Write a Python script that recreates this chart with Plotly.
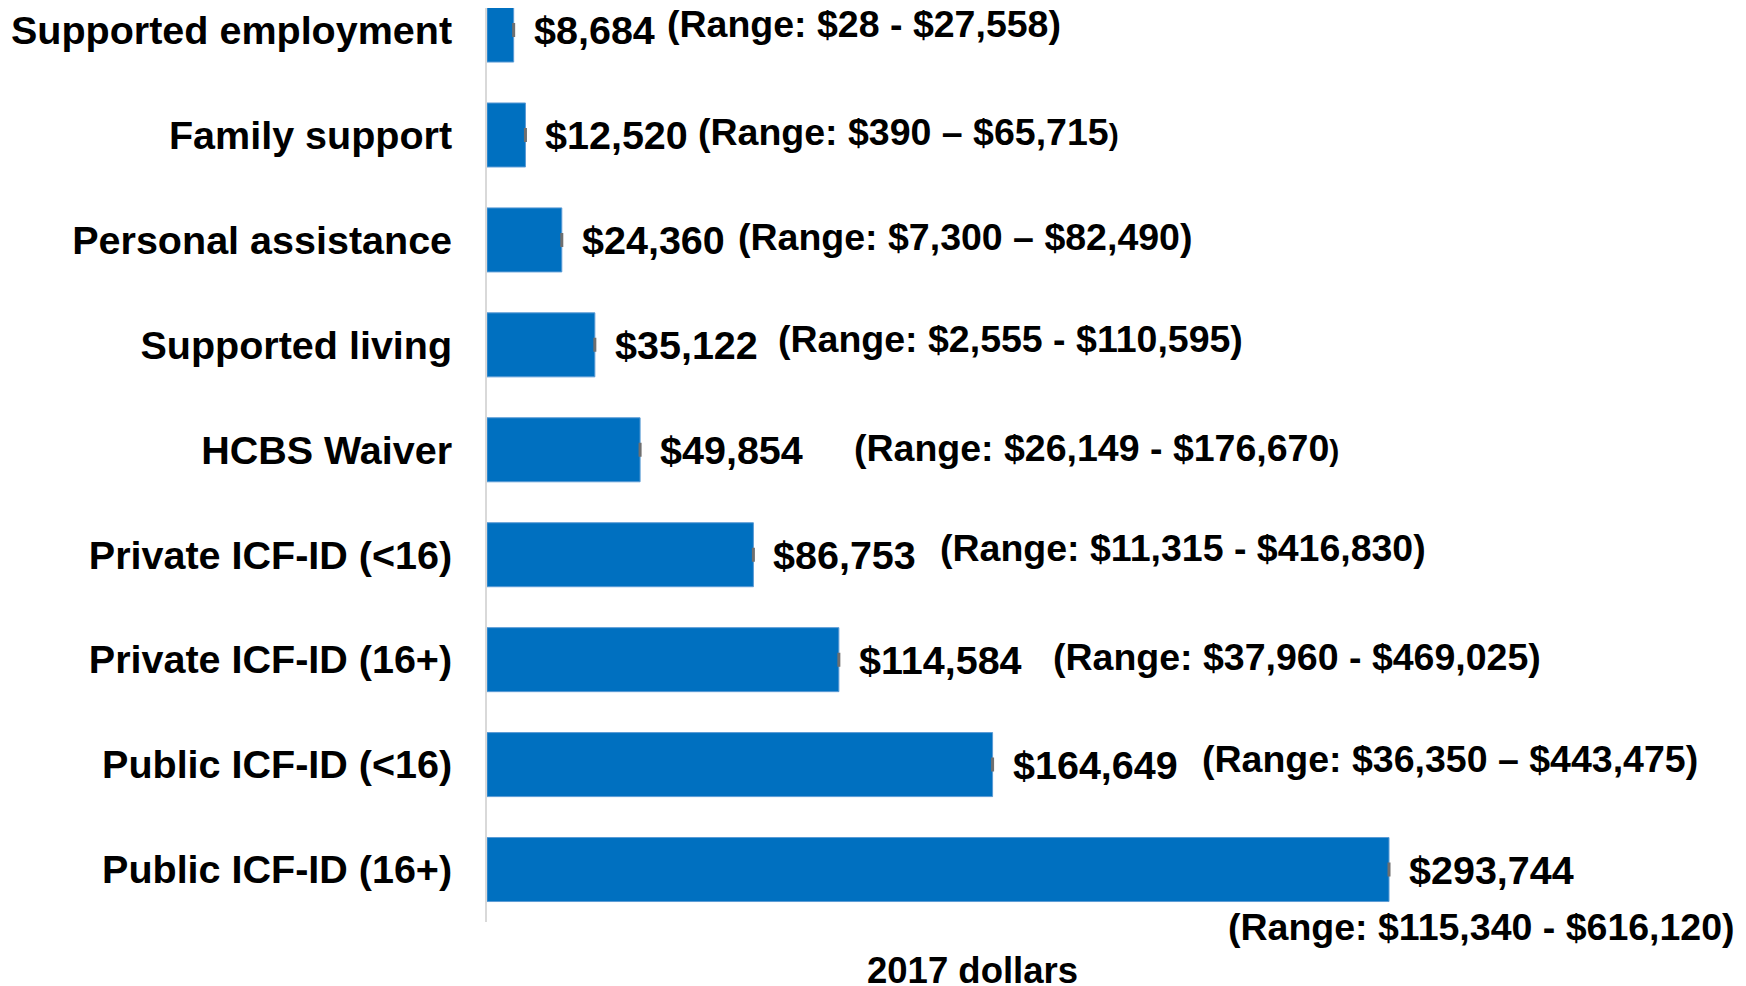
"""Average annual cost per person by service type (2017 dollars)."""
import plotly.graph_objects as go

categories = [
    "Supported employment",
    "Family support",
    "Personal assistance",
    "Supported living",
    "HCBS Waiver",
    "Private ICF-ID (<16)",
    "Private ICF-ID (16+)",
    "Public ICF-ID (<16)",
    "Public ICF-ID (16+)",
]
costs = [8684, 12520, 24360, 35122, 49854, 86753, 114584, 164649, 293744]
range_labels = [
    "(Range: $28 - $27,558)",
    "(Range: $390 – $65,715<span style='font-size:30px'>)</span>",
    "(Range: $7,300 – $82,490)",
    "(Range: $2,555 - $110,595)",
    "(Range: $26,149 - $176,670<span style='font-size:30px'>)</span>",
    "(Range: $11,315 - $416,830)",
    "(Range: $37,960 - $469,025)",
    "(Range: $36,350 – $443,475)",
    "(Range: $115,340 - $616,120)",
]

# layout only: pixel offsets of the range notes from the bar end
_range_dx = [151, 171, 174, 181, 212, 185, 212, 207]
_range_dy = [6, 3, 3, 6, 2, 7, 3, 6]

_BLUE = "#0070C0"
_FONT = "Liberation Sans, Arial, sans-serif"

fig = go.Figure(go.Bar(
    x=costs,
    y=categories,
    orientation="h",
    width=0.61,
    marker={"color": _BLUE, "line": {"color": "#5B9BD5", "width": 1}},
    error_x={"type": "data", "array": [0] * len(costs), "width": 7,
             "thickness": 3, "color": "#6f6f6f"},
    hoverinfo="skip",
))

annotations = []
for i, (cat, val) in enumerate(zip(categories, costs)):
    annotations.append(dict(
        x=val, y=cat, xref="x", yref="y", text=f"<b>${val:,}</b>",
        showarrow=False, xanchor="left", yanchor="middle", xshift=18,
        font={"size": 39.5, "color": "black", "family": _FONT},
    ))
    if i < len(_range_dx):
        annotations.append(dict(
            x=val, y=cat, xref="x", yref="y", text=f"<b>{range_labels[i]}</b>",
            showarrow=False, xanchor="left", yanchor="middle",
            xshift=_range_dx[i], yshift=_range_dy[i],
            font={"size": 37.5, "color": "black", "family": _FONT},
        ))
    else:
        annotations.append(dict(
            x=1, y=cat, xref="paper", yref="y", text=f"<b>{range_labels[i]}</b>",
            showarrow=False, xanchor="right", yanchor="middle",
            xshift=-9, yshift=-57,
            font={"size": 37.5, "color": "black", "family": _FONT},
        ))

annotations.append(dict(
    x=0.386, y=0, xref="paper", yref="paper", text="<b>2017 dollars</b>",
    showarrow=False, xanchor="center", yanchor="middle", yshift=-48,
    font={"size": 36.5, "color": "black", "family": _FONT},
))

# page body adds an 8px offset, so the figure is 8px smaller each way
fig.update_layout(
    width=1738,
    height=978,
    paper_bgcolor="white",
    plot_bgcolor="white",
    margin={"l": 479, "r": 0, "t": 0, "b": 64},
    showlegend=False,
    font={"family": _FONT, "color": "black"},
    xaxis={"range": [0, 410000], "showgrid": False, "zeroline": False,
           "showticklabels": False, "showline": False, "ticks": ""},
    yaxis={"range": [8.5, -0.21], "showgrid": False, "zeroline": False,
           "showline": True, "linecolor": "#D9D9D9", "linewidth": 2,
           "ticks": "", "ticklabelstandoff": 25,
           "tickfont": {"size": 39.5, "color": "black", "family": _FONT},
           "tickvals": categories,
           "ticktext": [f"<b>{c}</b>" for c in categories]},
    annotations=annotations,
)

fig.write_html("out.html")
